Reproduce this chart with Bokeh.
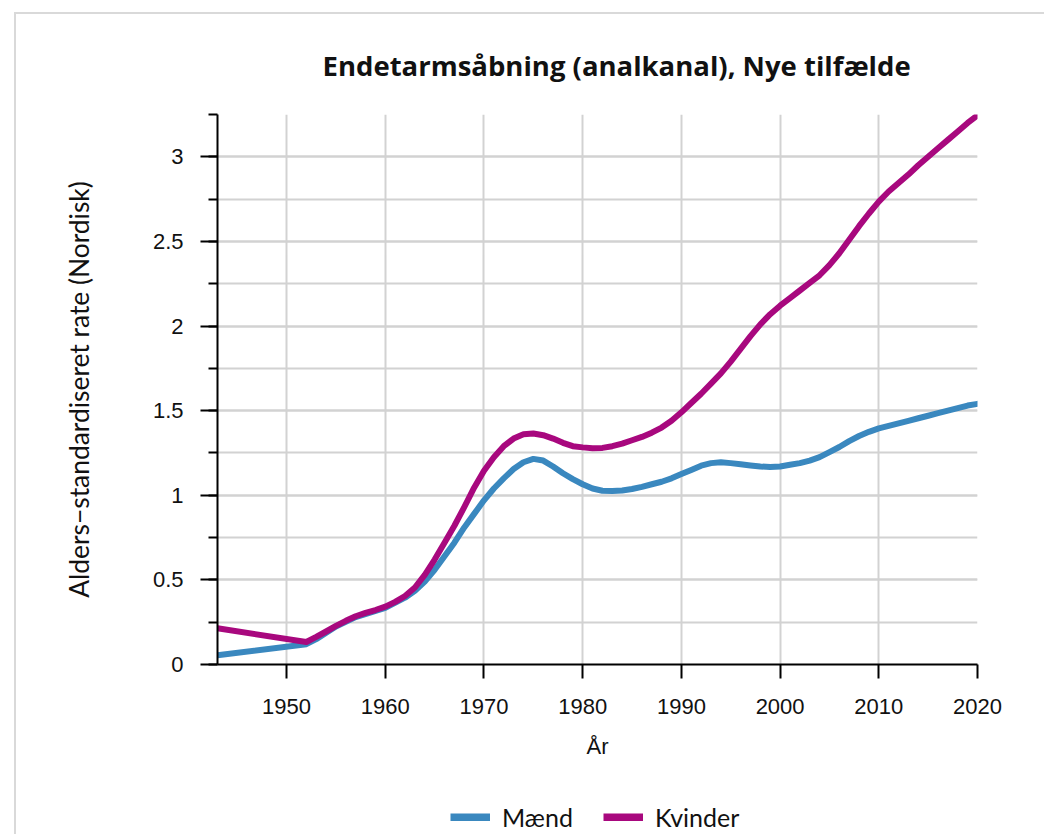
from bokeh.plotting import figure
from bokeh.layouts import column
from bokeh.models import SingleIntervalTicker, Legend, LegendItem, Title
from bokeh.embed import file_html
from bokeh.resources import INLINE

years_m = [1943, 1952, 1953, 1955, 1957, 1960, 1962, 1963, 1964, 1965, 1966, 1967, 1968, 1969,
           1970, 1971, 1972, 1973, 1974, 1975, 1976, 1977, 1978, 1979, 1980, 1981, 1982, 1983,
           1984, 1985, 1986, 1987, 1988, 1989, 1990, 1991, 1992, 1993, 1994, 1995, 1996, 1997,
           1998, 1999, 2000, 2001, 2002, 2003, 2004, 2005, 2006, 2007, 2008, 2009, 2010, 2011,
           2012, 2013, 2014, 2015, 2016, 2017, 2018, 2019, 2020]
maend = [0.055, 0.12, 0.15, 0.225, 0.28, 0.335, 0.395, 0.435, 0.49, 0.56, 0.64, 0.72, 0.81, 0.89,
         0.97, 1.04, 1.10, 1.155, 1.195, 1.215, 1.205, 1.17, 1.13, 1.095, 1.065, 1.04, 1.027, 1.025,
         1.028, 1.037, 1.05, 1.065, 1.08, 1.10, 1.125, 1.15, 1.175, 1.19, 1.195, 1.19, 1.183, 1.176,
         1.17, 1.167, 1.17, 1.18, 1.19, 1.205, 1.225, 1.255, 1.285, 1.32, 1.35, 1.375, 1.395, 1.41,
         1.425, 1.44, 1.455, 1.47, 1.485, 1.50, 1.515, 1.53, 1.54]

years_k = [1943, 1952, 1953, 1954, 1955, 1956, 1957, 1958, 1959, 1960, 1961, 1962, 1963, 1964,
           1965, 1966, 1967, 1968, 1969, 1970, 1971, 1972, 1973, 1974, 1975, 1976, 1977, 1978,
           1979, 1980, 1981, 1982, 1983, 1984, 1985, 1986, 1987, 1988, 1989, 1990, 1991, 1992,
           1993, 1994, 1995, 1996, 1997, 1998, 1999, 2000, 2001, 2002, 2003, 2004, 2005, 2006,
           2007, 2008, 2009, 2010, 2011, 2012, 2013, 2014, 2015, 2016, 2017, 2018, 2019, 2020]
kvinder = [0.214, 0.133, 0.163, 0.195, 0.228, 0.258, 0.285, 0.305, 0.322, 0.342, 0.37, 0.405, 0.455, 0.53,
           0.62, 0.72, 0.82, 0.93, 1.045, 1.145, 1.225, 1.29, 1.335, 1.36, 1.365, 1.355, 1.335, 1.31,
           1.29, 1.283, 1.278, 1.28, 1.29, 1.305, 1.325, 1.345, 1.37, 1.40, 1.44, 1.49, 1.545, 1.60,
           1.66, 1.72, 1.79, 1.865, 1.94, 2.01, 2.07, 2.12, 2.165, 2.21, 2.255, 2.30, 2.36, 2.43,
           2.51, 2.59, 2.665, 2.735, 2.795, 2.845, 2.895, 2.95, 3.0, 3.05, 3.10, 3.15, 3.20, 3.245]

series_names = ["Mænd", "Kvinder"]
series_colors = ["#3a88bf", "#a8087e"]
title_text = "Endetarmsåbning (analkanal), Nye tilfælde"
x_label = "År"
y_label = "Alders\u2212standardiseret rate (Nordisk)"

p = figure(width=1028, height=766, output_backend="svg", toolbar_location=None,
           x_range=(1943, 2020), y_range=(0, 3.25),
           min_border_left=201, min_border_right=67, min_border_top=100, min_border_bottom=116)
p.outline_line_color = None
p.background_fill_color = "white"
p.border_fill_color = "white"

t = Title(text=title_text, align="left", offset=105, standoff=61,
          text_font="Open Sans", text_font_size="27.5px", text_font_style="bold", text_color="#111111")
p.add_layout(t, "above")

p.xaxis.ticker = SingleIntervalTicker(interval=10, num_minor_ticks=0)
p.yaxis.ticker = SingleIntervalTicker(interval=0.5, num_minor_ticks=2)
for ax in (p.xaxis[0], p.yaxis[0]):
    ax.axis_line_width = 2
    ax.axis_line_color = "black"
    ax.major_tick_line_width = 2
    ax.major_tick_line_color = "black"
    ax.minor_tick_line_width = 2
    ax.minor_tick_line_color = "black"
    ax.major_tick_in = 0
    ax.minor_tick_in = 0
    ax.major_label_text_font = "Liberation Sans"
    ax.major_label_text_font_size = "22px"
    ax.major_label_text_color = "#111111"
    ax.axis_label_text_font_style = "normal"
    ax.axis_label_text_color = "#111111"

p.xaxis.major_tick_out = 14
p.xaxis.minor_tick_out = 0
p.xaxis.major_label_standoff = 20
p.xaxis.axis_label = x_label
p.xaxis.axis_label_text_font = "Liberation Sans"
p.xaxis.axis_label_text_font_size = "22px"
p.xaxis.axis_label_standoff = 17

p.yaxis.major_tick_out = 17
p.yaxis.minor_tick_out = 9
p.yaxis.major_label_standoff = 17
p.yaxis.axis_label = y_label
p.yaxis.axis_label_text_font = "Lato"
p.yaxis.axis_label_text_font_size = "26.4px"
p.yaxis.axis_label_standoff = 55
p.yaxis.major_label_orientation = "horizontal"

p.xgrid.grid_line_color = "#d2d2d2"
p.xgrid.grid_line_width = 2
p.ygrid.grid_line_color = "#d2d2d2"
p.ygrid.grid_line_width = 2
p.ygrid.minor_grid_line_color = "#d2d2d2"
p.ygrid.minor_grid_line_width = 2

p.line(years_m, maend, line_color=series_colors[0], line_width=6, line_join="round", line_cap="round")
p.line(years_k, kvinder, line_color=series_colors[1], line_width=6, line_join="round", line_cap="round")

# legend strip below the chart: a small axis-less figure whose (off-range, clipped)
# renderers carry the same series, so the Legend can draw their keys
leg = figure(width=1028, height=54, output_backend="svg", toolbar_location=None,
             x_range=(0, 1), y_range=(0, 1), min_border=0,
             x_axis_location=None, y_axis_location=None)
leg.grid.visible = False
leg.outline_line_color = None
leg.background_fill_color = "white"
leg.border_fill_color = "white"
lr1 = leg.line(years_m, maend, line_color=series_colors[0], line_width=8)
lr2 = leg.line(years_k, kvinder, line_color=series_colors[1], line_width=8)
legend = Legend(items=[LegendItem(label=series_names[0], renderers=[lr1]),
                       LegendItem(label=series_names[1], renderers=[lr2])],
                orientation="horizontal", location=(233, 2),
                glyph_width=40, glyph_height=8, label_text_font="Lato",
                label_text_font_size="25px", label_text_color="#111111",
                spacing=30, border_line_color=None, background_fill_alpha=0,
                margin=0, padding=0, label_standoff=12)
leg.add_layout(legend, "center")

layout = column(p, leg, margin=(12, 0, 0, 14),
                styles={"border-top": "2px solid #d9d9d9", "border-left": "2px solid #d9d9d9"})
open("out.html", "w").write(file_html(layout, INLINE))
